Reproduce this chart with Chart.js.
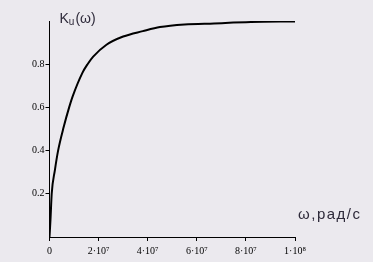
<!DOCTYPE html>
<html>
<head>
<meta charset="utf-8">
<script src="https://cdn.jsdelivr.net/npm/chart.js@4"></script>
<style>
    html, body { margin: 0; padding: 0; background: #ebe9ee; }
    #wrap { width: 373px; height: 262px; position: relative; }
</style>
</head>
<body>
<div id="wrap"><canvas id="gainChart" width="373" height="262"></canvas></div>
<script>
// frequency, rad/s
const omega = [0, 0.04e7, 0.09e7, 0.22e7, 0.35e7, 0.58e7, 0.8e7, 0.94e7, 1.34e7, 1.55e7,
    1.78e7, 2.32e7, 3.0e7, 3.8e7, 4.5e7, 5.5e7, 6.7e7, 8.2e7, 10e7];
// Ku(ω)
const gain = [0, 0.08, 0.2, 0.31, 0.4, 0.51, 0.6, 0.65, 0.76, 0.8,
    0.835, 0.89, 0.928, 0.953, 0.972, 0.984, 0.989, 0.995, 0.998];

const xTicks = [0, 2e7, 4e7, 6e7, 8e7, 1e8];
const xTickLabels = ['0', '2·10⁷', '4·10⁷', '6·10⁷', '8·10⁷', '1·10⁸'];
const yTicks = [0.2, 0.4, 0.6, 0.8];
const yTickLabels = ['0.2', '0.4', '0.6', '0.8'];

const textColor = '#2e2a3a';

// axis captions drawn next to the axes, like in the original
const axisCaptions = {
    id: 'axisCaptions',
    afterDraw(chart) {
        const ctx = chart.ctx;
        const area = chart.chartArea;
        ctx.save();
        ctx.fillStyle = textColor;
        ctx.textBaseline = 'alphabetic';
        ctx.textAlign = 'left';
        // Ku(ω)
        let x = area.left + 10;
        ctx.font = '14px "Liberation Sans", Arial, sans-serif';
        ctx.fillText('K', x, 23);
        x += ctx.measureText('K').width;
        ctx.font = '10px "Liberation Sans", Arial, sans-serif';
        ctx.fillText('u', x, 25);
        x += ctx.measureText('u').width + 1;
        ctx.font = '14px "Liberation Sans", Arial, sans-serif';
        ctx.fillText('(ω)', x, 23);
        // ω,рад/с
        ctx.font = '15px "Liberation Sans", Arial, sans-serif';
        ctx.letterSpacing = '1.5px';
        ctx.fillText('ω,рад/с', area.right + 3, 219);
        ctx.restore();
    }
};

const ctx = document.getElementById('gainChart').getContext('2d');
new Chart(ctx, {
    type: 'line',
    data: {
        datasets: [{
            label: 'Ku(ω)',
            data: omega.map((w, i) => ({ x: w, y: gain[i] })),
            borderColor: '#000',
            borderWidth: 2,
            pointRadius: 0,
            cubicInterpolationMode: 'monotone',
            fill: false
        }]
    },
    options: {
        responsive: false,
        animation: false,
        layout: { padding: { top: 21, right: 78, left: 0, bottom: 0 } },
        plugins: {
            legend: { display: false },
            tooltip: { enabled: false }
        },
        scales: {
            x: {
                type: 'linear',
                min: 0,
                max: 1e8,
                afterBuildTicks: function(scale) {
                    scale.ticks = xTicks.map(v => ({ value: v }));
                },
                afterFit: function(scale) {
                    scale.height = 25;
                },
                ticks: {
                    autoSkip: false,
                    maxRotation: 0,
                    padding: 4,
                    color: '#000',
                    font: { family: '"Liberation Serif", "Times New Roman", serif', size: 10 },
                    callback: function(value, index) {
                        return xTickLabels[index];
                    }
                },
                grid: { drawOnChartArea: false, tickLength: 4, color: '#000' },
                border: { color: '#000', width: 1 }
            },
            y: {
                min: 0,
                max: 1,
                afterBuildTicks: function(scale) {
                    scale.ticks = yTicks.map(v => ({ value: v }));
                },
                afterFit: function(scale) {
                    scale.width = 49.5;
                },
                ticks: {
                    padding: 1,
                    color: '#000',
                    font: { family: '"Liberation Serif", "Times New Roman", serif', size: 10 },
                    callback: function(value, index) {
                        return yTickLabels[index];
                    }
                },
                grid: { drawOnChartArea: false, tickLength: 4, color: '#000' },
                border: { color: '#000', width: 1 }
            }
        }
    },
    plugins: [axisCaptions]
});
</script>
</body>
</html>
